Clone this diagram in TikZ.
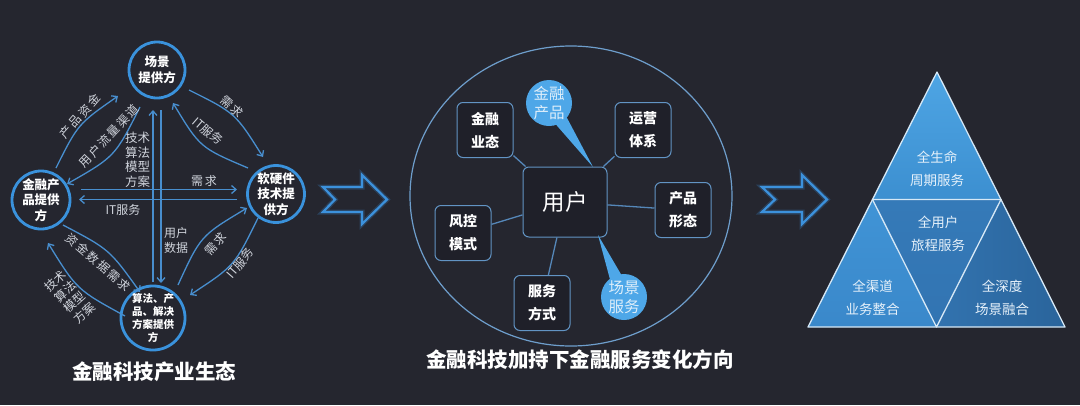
\documentclass[tikz,border=0pt]{standalone}
\usepackage{fontspec}
\setmainfont{Noto Sans CJK SC}
\usetikzlibrary{arrows.meta}
\definecolor{bg}{RGB}{37,38,47}
\definecolor{circc}{RGB}{58,146,220}
\definecolor{arrc}{RGB}{72,142,206}
\definecolor{lblc}{RGB}{208,212,220}
\definecolor{boxl}{RGB}{98,148,196}
\definecolor{boxf}{RGB}{31,32,41}
\definecolor{ellc}{RGB}{110,158,204}
\definecolor{connc}{RGB}{85,135,185}
\definecolor{bubc}{RGB}{78,167,232}
\definecolor{bubt}{RGB}{222,238,250}
\definecolor{chevc}{RGB}{60,145,220}
\definecolor{tritext}{RGB}{230,241,250}
\definecolor{triline}{RGB}{214,232,246}
\definecolor{tTop}{RGB}{78,165,228}
\definecolor{tTopB}{RGB}{60,143,208}
\definecolor{tMid}{RGB}{53,122,184}
\definecolor{tMidB}{RGB}{50,116,178}
\definecolor{tBL}{RGB}{64,148,214}
\definecolor{tBLB}{RGB}{58,136,202}
\definecolor{tBR}{RGB}{50,115,175}
\definecolor{tBRB}{RGB}{42,100,155}
\newcommand\chsp{\kern1.8pt}
\begin{document}
\begin{tikzpicture}[x=1pt,y=-1pt,
 circ/.style={circle,draw=circc,line width=2.8pt,fill=bg,minimum size=56pt,inner sep=0pt,align=center,text=white,font=\bfseries\fontsize{12.5}{15.5}\selectfont},
 arr/.style={draw=arrc,line width=1.3pt,-{Straight Barb[length=4.5pt,width=8pt]}},
 elab/.style={text=lblc,inner sep=0pt,align=center,font=\fontsize{12}{14.5}\selectfont},
 boxn/.style={draw=boxl,line width=1pt,rounded corners=6pt,fill=boxf,minimum width=56pt,minimum height=55pt,inner sep=0pt,align=center,text=white,font=\bfseries\fontsize{14}{23}\selectfont},
 conn/.style={draw=connc,line width=1.3pt},
 bubble/.style={circle,fill=bubc,minimum size=46pt,inner sep=0pt,align=center,text=bubt,font=\fontsize{15.5}{18.5}\selectfont},
 chev/.style={draw=chevc,line width=2.2pt,line join=miter},
 chevglow/.style={draw=chevc,line width=5pt,opacity=0.25,line join=miter},
 trin/.style={draw=triline,line width=1.3pt,line join=round},
 tlab/.style={text=tritext,inner sep=0pt,align=center,font=\fontsize{13.5}{23}\selectfont},
 ttl/.style={text=white,inner sep=0pt,font=\bfseries\fontsize{20.5}{24}\selectfont}
]
\useasboundingbox (0,0) rectangle (1080,405);
\fill[bg] (0,0) rectangle (1080,405);

% ---------- left: ecosystem ----------
\node[circ] (T) at (157,70) {场景\\提供方};
\node[circ,minimum size=58pt] (L) at (41,200) {金融产\\品提供\\方};
\node[circ] (R) at (276,194) {软硬件\\技术提\\供方};
\node[circ,font=\bfseries\fontsize{10.5}{12.8}\selectfont] (B) at (153,318) {算法、产\\品、解决\\方案提供\\方};

% straight arrows
\coordinate (h1s) at (81,189.5);  \coordinate (h1e) at (237,189.5);
\coordinate (h2s) at (237,199.5); \coordinate (h2e) at (79,199.5);
\coordinate (v1s) at (153,282);   \coordinate (v1e) at (153,110);
\coordinate (v2s) at (161,110);   \coordinate (v2e) at (161,283);
\draw[arr] (h1s) -- (h1e);
\draw[arr] (h2s) -- (h2e);
\draw[arr] (v1s) -- (v1e);
\draw[arr] (v2s) -- (v2e);
\node[elab] (lh1) at (204,181) {需\chsp 求};
\node[elab] (lh2) at (123,209.5) {IT服务};
\node[elab,font=\fontsize{12.5}{14.5}\selectfont] (lv1) at (137.5,160) {技术\\算法\\模型\\方案};
\node[elab,font=\fontsize{12}{15}\selectfont] (lv2) at (176,240) {用户\\数据};

% curved arrows
\coordinate (a1s) at (56,168);  \coordinate (a1e) at (118,96);
\coordinate (a2s) at (140,107); \coordinate (a2e) at (67,184);
\coordinate (a3s) at (189,90);  \coordinate (a3e) at (263,157);
\coordinate (a4s) at (248,168); \coordinate (a4e) at (173,103);
\coordinate (a5s) at (178,285); \coordinate (a5e) at (247,208);
\coordinate (a6s) at (258,218); \coordinate (a6e) at (190,295);
\coordinate (a7s) at (63,225);  \coordinate (a7e) at (140,292);
\coordinate (a8s) at (125,316); \coordinate (a8e) at (48,243);
\draw[arr] (a1s) .. controls (78,124) .. (a1e);
\draw[arr] (a2s) .. controls (115,156.5) .. (a2e);
\draw[arr] (a3s) .. controls (235.4,113.1) .. (a3e);
\draw[arr] (a4s) .. controls (200,147.6) .. (a4e);
\draw[arr] (a5s) .. controls (200.6,235.8) .. (a5e);
\draw[arr] (a6s) .. controls (234.5,265.8) .. (a6e);
\draw[arr] (a7s) .. controls (109.4,249.4) .. (a7e);
\draw[arr] (a8s) .. controls (76.9,289.7) .. (a8e);
\node[elab,rotate=49] (l1) at (80,116) {产\chsp 品\chsp 资\chsp 金};
\node[elab,rotate=47] (l2) at (109,136) {用\chsp 户\chsp 流\chsp 量\chsp 渠\chsp 道};
\node[elab,rotate=-42] (l3) at (232,107) {需\chsp 求};
\node[elab,rotate=-41] (l4) at (208,131) {IT服务};
\node[elab,rotate=48] (l5) at (216,244) {需\chsp 求};
\node[elab,rotate=49] (l6) at (240,263) {IT服务};
\node[elab,rotate=-41] (l7) at (98.5,262.5) {资\chsp 金\chsp 数\chsp 据\chsp 需\chsp 求};
\node[elab,rotate=42,font=\fontsize{12}{14.5}\selectfont] (l8) at (70,297) {技术\\算法\\模型\\方案};

\node[ttl] (title1) at (154,372) {金融科技产业生态};

% ---------- arrows between panels ----------
\draw[chevglow] (323,187) -- (362,187) -- (362,175) -- (387,199.5) -- (362,224) -- (362,212) -- (323,212) -- (335,199.5) -- cycle;
\draw[chev] (323,187) -- (362,187) -- (362,175) -- (387,199.5) -- (362,224) -- (362,212) -- (323,212) -- (335,199.5) -- cycle;
\draw[chevglow] (762,187) -- (802,187) -- (802,175) -- (827,199.5) -- (802,224) -- (802,212) -- (762,212) -- (775,199.5) -- cycle;
\draw[chev] (762,187) -- (802,187) -- (802,175) -- (827,199.5) -- (802,224) -- (802,212) -- (762,212) -- (775,199.5) -- cycle;

% ---------- middle: user-centred services ----------
\draw[draw=ellc,line width=1.2pt] (571,196) ellipse [x radius=161, y radius=150];
\node[boxn,minimum width=84pt,minimum height=70pt,font=\fontsize{22.5}{26}\selectfont] (u) at (565,202) {用户};
\node[boxn] (b1) at (485,130) {金融\\业态};
\node[boxn] (b2) at (643,130) {运营\\体系};
\node[boxn] (b3) at (683,210) {产品\\形态};
\node[boxn] (b4) at (463,233) {风控\\模式};
\node[boxn] (b5) at (542,303) {服务\\方式};
\draw[conn] (b1) -- (u);
\draw[conn] (b2) -- (u);
\draw[conn] (b3) -- (u);
\draw[conn] (b4) -- (u);
\draw[conn] (b5) -- (u);

\coordinate (tip1) at (593,167);
\coordinate (tip2) at (598,235);
\fill[bubc] (556.4,97.9) -- (tip1) -- (541.6,108.1) -- cycle;
\fill[bubc] (632.3,293.5) -- (tip2) -- (615.7,300.5) -- cycle;
\node[bubble] (p1) at (549,103) {金融\\产品};
\node[bubble] (p2) at (624,297) {场景\\服务};

\node[ttl] (title2) at (580,360) {金融科技加持下金融服务变化方向};

% ---------- right: triangle ----------
\coordinate (A) at (937,72);
\coordinate (BL) at (808,327);
\coordinate (BR) at (1065,327);
\coordinate (ML) at (872.5,199.5);
\coordinate (MR) at (1001,199.5);
\coordinate (MB) at (936.5,327);
\shade[top color=tTop,bottom color=tTopB] (A) -- (ML) -- (MR) -- cycle;
\shade[top color=tMid,bottom color=tMidB] (ML) -- (MR) -- (MB) -- cycle;
\shade[top color=tBL,bottom color=tBLB] (ML) -- (BL) -- (MB) -- cycle;
\shade[left color=tBR,right color=tBRB] (MR) -- (MB) -- (BR) -- cycle;
\draw[trin] (A) -- (BL) -- (BR) -- cycle;
\draw[trin] (ML) -- (MR) -- (MB) -- cycle;
\node[tlab] (s1) at (937,168.5) {全生命\\周期服务};
\node[tlab] (s2) at (938,234) {全用户\\旅程服务};
\node[tlab] (s3) at (872.5,297.5) {全渠道\\业务整合};
\node[tlab] (s4) at (1002,297.5) {全深度\\场景融合};
\end{tikzpicture}
\end{document}
